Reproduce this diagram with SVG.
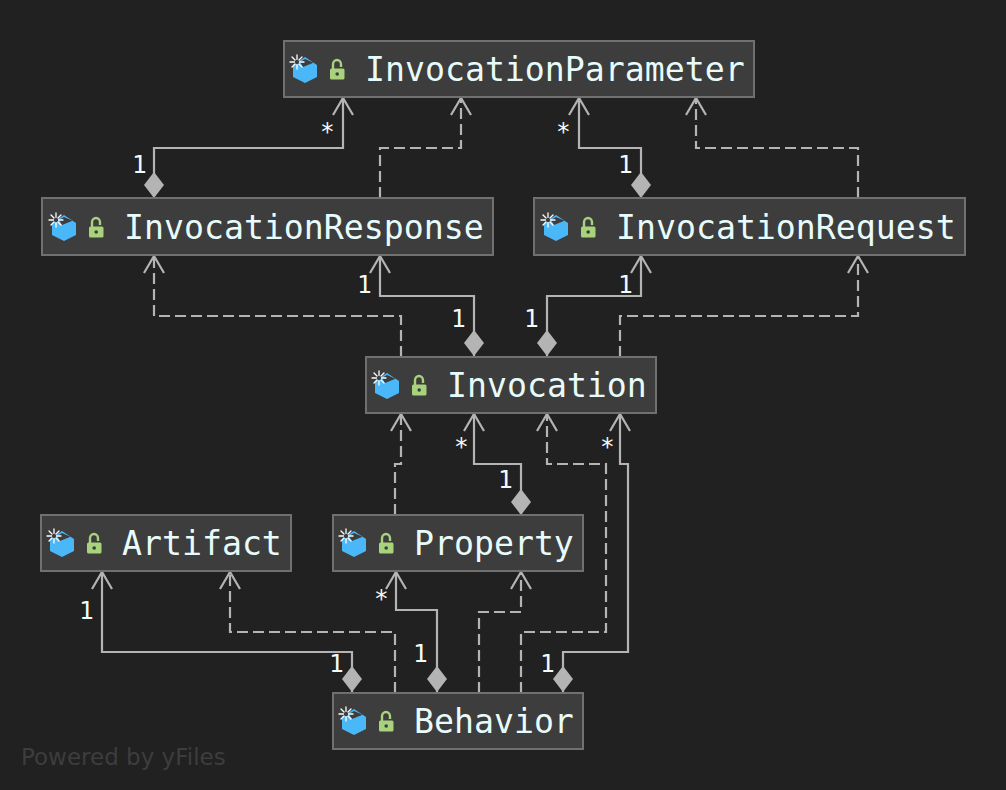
<svg xmlns="http://www.w3.org/2000/svg" width="1006" height="790" viewBox="0 0 1006 790">
<style>
.box{fill:#3d3d3d;stroke:#707070;stroke-width:2}
.name{font-family:"DejaVu Sans Mono","Liberation Mono",monospace;font-size:33.200px;fill:#e8fbfb}
.lab{font-family:"DejaVu Sans Mono","Liberation Mono",monospace;font-size:24.500px;fill:#f2fafa}
.wm{font-family:"DejaVu Sans","Liberation Sans",sans-serif;font-size:23px;fill:#3d3d3d}
.solid,.dash{fill:none;stroke:#b4b4b4;stroke-width:2.200;marker-end:url(#open)}
.dash{stroke-dasharray:11 5}
.comp{marker-start:url(#dia)}
</style>
<defs>
<marker id="open" markerUnits="userSpaceOnUse" markerWidth="24" markerHeight="26" refX="19" refY="11" orient="auto">
<path d="M2 1L19 11L2 21" fill="none" stroke="#b4b4b4" stroke-width="2.200"/>
</marker>
<marker id="dia" markerUnits="userSpaceOnUse" markerWidth="30" markerHeight="24" refX="0" refY="11" orient="auto">
<path d="M0 11L13 1L26 11L13 21Z" fill="#b4b4b4"/>
</marker>
<g id="icon">
<path d="M22 0L34 8V20L22 26L10 20V8Z" fill="#4ab8f8"/>
<path d="M20 10L30.500 5.700L22 2L17 5Z" fill="#3d3d3d"/>
<g stroke="#fff" stroke-width="1.300" fill="none" stroke-linecap="round">
<path d="M14 -2V12M7 5H21M9 0L19 10M19 0L9 10"/>
</g>
<circle cx="14" cy="5" r="2.200" fill="#3d3d3d"/>
<path d="M50 12V7.500a4 4.500 0 0 1 8 0V10" fill="none" stroke="#a9d27d" stroke-width="2.400"/>
<rect x="47" y="11.500" width="14.500" height="11" rx="1.500" fill="#a9d27d"/>
<circle cx="54.200" cy="17" r="1.800" fill="#3d3d3d"/>
</g>
</defs>
<rect width="1006" height="790" fill="#212121"/>
<text class="wm" x="21" y="765">Powered by yFiles</text>
<g id="connectors">
<path class="solid comp" d="M154 198V148H343V98"/>
<path class="solid comp" d="M641 198V148H579V98"/>
<path class="dash" d="M380 198V148H461V98"/>
<path class="dash" d="M858 198V148H696V98"/>
<path class="dash" d="M401 357V316H154V256"/>
<path class="solid comp" d="M474 356V296H380V256"/>
<path class="solid comp" d="M547 356V296H641V256"/>
<path class="dash" d="M620 357V316H858V256"/>
<path class="dash" d="M395 515V464H401V414"/>
<path class="solid comp" d="M521 515V464H474V414"/>
<path class="dash" d="M521 693V632H606V464H547V414"/>
<path class="solid comp" d="M563 692V652H628V464H620V414"/>
<path class="solid comp" d="M352 692V652H102V572"/>
<path class="dash" d="M395 693V632H230V572"/>
<path class="solid comp" d="M437 692V610H396V572"/>
<path class="dash" d="M479 693V612H521V572"/>
</g>
<g id="InvocationParameter"><rect class="box" x="284" y="41" width="470" height="56"/><use href="#icon" transform="translate(283,57)"/><text class="name" x="365" y="81">InvocationParameter</text></g>
<g id="InvocationResponse"><rect class="box" x="42" y="198" width="451" height="57"/><use href="#icon" transform="translate(42,215)"/><text class="name" x="124" y="239">InvocationResponse</text></g>
<g id="InvocationRequest"><rect class="box" x="534" y="198" width="431" height="57"/><use href="#icon" transform="translate(534,215)"/><text class="name" x="616" y="239">InvocationRequest</text></g>
<g id="Invocation"><rect class="box" x="366" y="357" width="290" height="56"/><use href="#icon" transform="translate(365,373)"/><text class="name" x="447" y="397">Invocation</text></g>
<g id="Artifact"><rect class="box" x="41" y="515" width="250" height="56"/><use href="#icon" transform="translate(40,531)"/><text class="name" x="122" y="555">Artifact</text></g>
<g id="Property"><rect class="box" x="333" y="515" width="250" height="56"/><use href="#icon" transform="translate(332,531)"/><text class="name" x="414" y="555">Property</text></g>
<g id="Behavior"><rect class="box" x="333" y="693" width="250" height="56"/><use href="#icon" transform="translate(332,709)"/><text class="name" x="414" y="733">Behavior</text></g>
<g id="labels">
<text class="lab" x="132" y="173">1</text><text class="lab" x="320" y="140">*</text>
<text class="lab" x="618" y="173">1</text><text class="lab" x="556" y="140">*</text>
<text class="lab" x="357" y="293">1</text><text class="lab" x="451" y="327">1</text>
<text class="lab" x="524" y="327">1</text><text class="lab" x="618" y="293">1</text>
<text class="lab" x="454" y="455">*</text><text class="lab" x="498" y="488">1</text>
<text class="lab" x="600" y="455">*</text>
<text class="lab" x="79" y="619">1</text><text class="lab" x="374" y="607">*</text>
<text class="lab" x="329" y="672">1</text><text class="lab" x="413" y="662">1</text><text class="lab" x="540" y="672">1</text>
</g>
</svg>
